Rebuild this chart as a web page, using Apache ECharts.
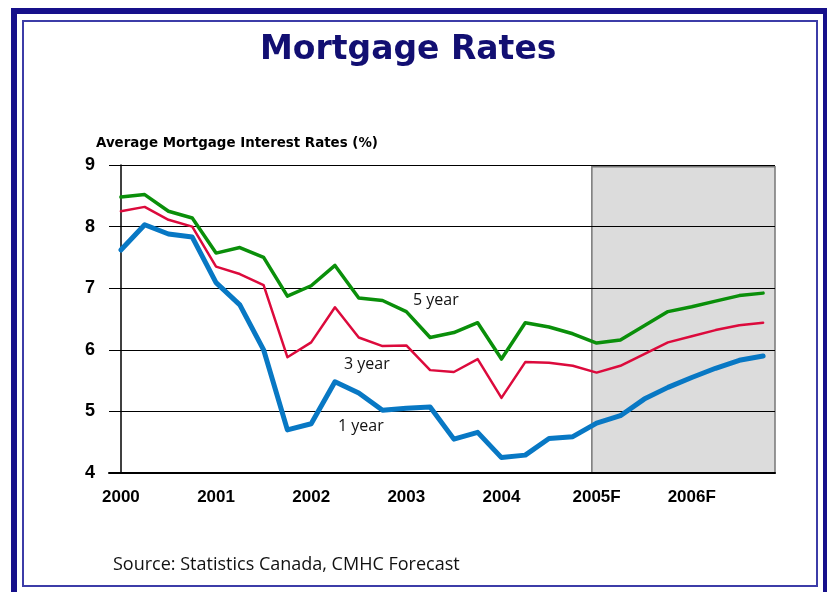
<!DOCTYPE html>
<html>
<head>
<meta charset="utf-8">
<script src="https://cdn.jsdelivr.net/npm/echarts@6/dist/echarts.min.js"></script>
<style>
  html, body { margin: 0; padding: 0; background: #fff; }
  #chart { width: 827px; height: 592px; }
</style>
</head>
<body>
<div id="chart"></div>
<script>
// quarters 2000 Q1 .. 2006 Q4 (2005-2006 forecast)
var quarters = [
  '2000Q1', '2000Q2', '2000Q3', '2000Q4',
  '2001Q1', '2001Q2', '2001Q3', '2001Q4',
  '2002Q1', '2002Q2', '2002Q3', '2002Q4',
  '2003Q1', '2003Q2', '2003Q3', '2003Q4',
  '2004Q1', '2004Q2', '2004Q3', '2004Q4',
  '2005Q1', '2005Q2', '2005Q3', '2005Q4',
  '2006Q1', '2006Q2', '2006Q3', '2006Q4'
]
var yearLabels = ['2000', '2001', '2002', '2003', '2004', '2005F', '2006F']

var oneYear = [7.62, 8.03, 7.88, 7.83, 7.09, 6.73, 6.00, 4.70, 4.80, 5.48, 5.30, 5.02, 5.05, 5.07,
  4.55, 4.66, 4.25, 4.29, 4.56, 4.59, 4.81, 4.93, 5.20, 5.39, 5.55, 5.70, 5.83, 5.90]
var threeYear = [8.25, 8.32, 8.11, 8.00, 7.35, 7.23, 7.05, 5.88, 6.12, 6.69, 6.20, 6.06, 6.07, 5.67,
  5.64, 5.85, 5.22, 5.80, 5.79, 5.74, 5.63, 5.74, 5.93, 6.12, 6.22, 6.32, 6.40, 6.44]
var fiveYear = [8.48, 8.52, 8.25, 8.14, 7.57, 7.66, 7.50, 6.87, 7.04, 7.37, 6.84, 6.80, 6.62, 6.20,
  6.28, 6.44, 5.85, 6.44, 6.37, 6.26, 6.11, 6.16, 6.39, 6.62, 6.70, 6.79, 6.88, 6.92]

// forecast band, in quarter index units
var forecastStart = 19.8
var forecastEnd = 27.5

var myChart = echarts.init(document.getElementById('chart'))

function lineSeries (name, data, color, width) {
  return {
    name: name,
    type: 'line',
    z: 10,
    data: data,
    symbol: 'none',
    lineStyle: { color: color, width: width, join: 'round', cap: 'round' },
    itemStyle: { color: color }
  }
}

var labelFont = '"Open Sans", "DejaVu Sans", sans-serif'

myChart.setOption({
  animation: false,
  title: {
    text: 'Mortgage Rates',
    left: 255,
    top: 29,
    textStyle: {
      color: '#120f72',
      fontSize: 33,
      fontWeight: 'bold',
      fontFamily: '"DejaVu Sans", sans-serif'
    }
  },
  grid: {
    left: 109,
    right: 52,
    top: 165,
    bottom: 119
  },
  xAxis: [
    {
      type: 'category',
      data: quarters,
      boundaryGap: true,
      z: 5,
      axisLine: { lineStyle: { color: '#000', width: 2 } },
      axisTick: {
        alignWithLabel: true,
        inside: true,
        length: 8,
        interval: 0,
        lineStyle: { color: '#000', width: 1 }
      },
      axisLabel: {
        interval: 3,
        margin: 16,
        color: '#000',
        fontSize: 17,
        fontWeight: 'bold',
        fontFamily: '"Liberation Sans", Arial, sans-serif',
        formatter: function (value, index) {
          return yearLabels[index / 4]
        }
      },
      splitLine: { show: false }
    },
    {
      // hidden numeric axis for placing the forecast band
      type: 'value',
      show: false,
      min: -0.5,
      max: 27.5
    }
  ],
  yAxis: {
    type: 'value',
    min: 4,
    max: 9,
    interval: 1,
    z: 5,
    axisLine: { show: true, lineStyle: { color: '#000', width: 1.5 } },
    axisTick: { show: false },
    axisLabel: {
      margin: 14,
      color: '#000',
      fontSize: 18,
      fontWeight: 'bold',
      fontFamily: '"Liberation Sans", Arial, sans-serif'
    },
    splitLine: { show: true, lineStyle: { color: '#000', width: 1 } }
  },
  series: [
    {
      name: 'forecast',
      type: 'line',
      xAxisIndex: 1,
      z: 1,
      data: [],
      markArea: {
        silent: true,
        itemStyle: { color: '#dcdcdc', borderColor: '#777', borderWidth: 1.5 },
        data: [[{ xAxis: forecastStart, yAxis: 8.97 }, { xAxis: forecastEnd, yAxis: 4 }]]
      }
    },
    lineSeries('5 year', fiveYear, '#0a8f0a', 3.5),
    lineSeries('3 year', threeYear, '#dc0a3c', 2.5),
    lineSeries('1 year', oneYear, '#0878c4', 5)
  ],
  graphic: [
    // outer thick frame
    {
      type: 'rect',
      shape: { x: 14, y: 11, width: 812, height: 586 },
      style: { fill: 'none', stroke: '#16108a', lineWidth: 6 }
    },
    // inner thin frame
    {
      type: 'rect',
      shape: { x: 23, y: 21, width: 794, height: 565 },
      style: { fill: 'none', stroke: '#3c3ca8', lineWidth: 2 }
    },
    {
      type: 'text',
      left: 96,
      top: 137,
      style: {
        text: 'Average Mortgage Interest Rates (%)',
        fill: '#000',
        font: 'bold 13.4px "DejaVu Sans", sans-serif'
      }
    },
    {
      type: 'text',
      left: 413,
      top: 292,
      style: { text: '5 year', fill: '#111', font: '16px ' + labelFont }
    },
    {
      type: 'text',
      left: 344,
      top: 356,
      style: { text: '3 year', fill: '#111', font: '16px ' + labelFont }
    },
    {
      type: 'text',
      left: 338,
      top: 418,
      style: { text: '1 year', fill: '#111', font: '16px ' + labelFont }
    },
    {
      type: 'text',
      left: 113,
      top: 556,
      style: {
        text: 'Source: Statistics Canada, CMHC Forecast',
        fill: '#111',
        font: '18px ' + labelFont
      }
    }
  ]
})
</script>
</body>
</html>
